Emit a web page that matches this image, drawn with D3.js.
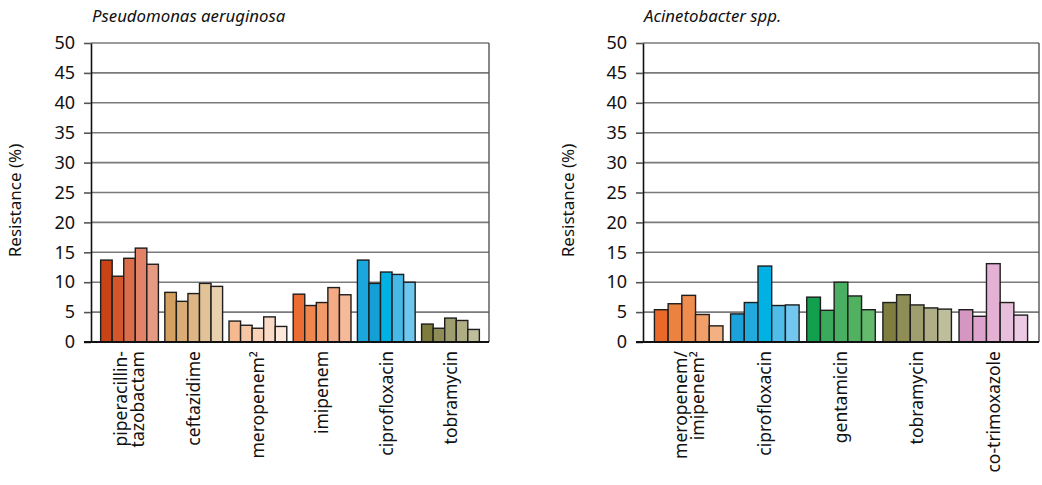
<!DOCTYPE html>
<html>
<head>
<meta charset="utf-8">
<script src="https://cdn.jsdelivr.net/npm/d3@7"></script>
<style>
  html, body { margin: 0; padding: 0; background: #fff; }
  svg { display: block; font-family: "Noto Sans", "Open Sans", sans-serif; }
</style>
</head>
<body>
<svg id="chart" width="1042" height="485"></svg>
<script>
// Resistance (%) per antibiotic, five consecutive years per antibiotic
const yTicks = [0, 5, 10, 15, 20, 25, 30, 35, 40, 45, 50];

const pseudoTitle = "Pseudomonas aeruginosa";
const pseudoDrugs = ["piperacillin-\ntazobactam", "ceftazidime", "meropenem²", "imipenem", "ciprofloxacin", "tobramycin"];
const pseudoValues = [
  [13.7, 11.0, 14.0, 15.7, 13.0],
  [8.3, 6.8, 8.1, 9.8, 9.3],
  [3.5, 2.8, 2.3, 4.2, 2.6],
  [8.0, 6.1, 6.6, 9.1, 7.9],
  [13.7, 9.8, 11.7, 11.3, 10.0],
  [3.0, 2.3, 4.0, 3.6, 2.1]
];
const pseudoColors = [
  ["#c84416", "#d4562b", "#dc6d4b", "#e28267", "#e69a82"],
  ["#d4a05f", "#d9ad75", "#ddb684", "#e2c398", "#e9d1ad"],
  ["#f5b98f", "#f7c6a4", "#f9d1b6", "#fadac6", "#fce7da"],
  ["#ec6d31", "#f0874f", "#f29a69", "#f4aa84", "#f6b999"],
  ["#1aa7dd", "#159fd7", "#00b2e3", "#46b9e8", "#6ec7ee"],
  ["#7d7c3c", "#8f8d57", "#9e9d6d", "#aead84", "#bebd9c"]
];

const acinetoTitle = "Acinetobacter spp.";
const acinetoDrugs = ["meropenem/\nimipenem²", "ciprofloxacin", "gentamicin", "tobramycin", "co-trimoxazole"];
const acinetoValues = [
  [5.4, 6.4, 7.8, 4.6, 2.7],
  [4.7, 6.6, 12.7, 6.1, 6.2],
  [7.5, 5.3, 10.0, 7.7, 5.4],
  [6.6, 7.9, 6.2, 5.7, 5.5],
  [5.4, 4.3, 13.1, 6.6, 4.5]
];
const acinetoColors = [
  ["#e8692a", "#ec8240", "#ee8d4d", "#f09f69", "#f3b081"],
  ["#1ba2da", "#22a9de", "#00b2e3", "#50bce9", "#73c7ee"],
  ["#13a04e", "#3aaa5b", "#49b063", "#50b261", "#63ba6c"],
  ["#7f7e40", "#8f8d56", "#9f9e6f", "#afae87", "#bebd9c"],
  ["#d596c1", "#dea3cc", "#e4b1d5", "#e7bfdc", "#edcae3"]
];

const svg = d3.select("#chart");

function drawPanel(opts) {
  const { title, drugs, values, colors, x0, x1, y0, y1, yTitleX } = opts;
  const g = svg.append("g");

  const x = d3.scaleBand().domain(drugs).range([x0, x1]).paddingInner(0.1).paddingOuter(0.15);
  const y = d3.scaleLinear().domain([0, 50]).range([y0, y1]);

  // horizontal grid lines
  g.append("g").selectAll("line")
    .data(yTicks.filter(t => t > 0))
    .join("line")
    .attr("x1", x0).attr("x2", x1)
    .attr("y1", d => y(d)).attr("y2", d => y(d))
    .attr("stroke", "#7a7a7a").attr("stroke-width", 1.6);

  // right frame edge
  g.append("line")
    .attr("x1", x1).attr("x2", x1).attr("y1", y(50)).attr("y2", y(0))
    .attr("stroke", "#555").attr("stroke-width", 1.4);

  // bars
  drugs.forEach((drug, i) => {
    const inner = d3.scaleBand().domain(d3.range(values[i].length)).range([x(drug), x(drug) + x.bandwidth()]);
    g.append("g").selectAll("rect")
      .data(values[i])
      .join("rect")
      .attr("x", (d, j) => inner(j))
      .attr("width", inner.bandwidth())
      .attr("y", d => y(d))
      .attr("height", d => y(0) - y(d))
      .attr("fill", (d, j) => colors[i][j])
      .attr("stroke", "#1e1e1e")
      .attr("stroke-width", 1.4);
  });

  // y axis
  const yAxis = d3.axisLeft(y).tickValues(yTicks).tickSize(7).tickPadding(9).tickSizeOuter(0);
  const ya = g.append("g").attr("transform", `translate(${x0},0)`).call(yAxis);
  ya.select(".domain").attr("stroke", "#111").attr("stroke-width", 1.6);
  ya.selectAll(".tick line").attr("stroke", "#555").attr("stroke-width", 1.6);
  ya.selectAll(".tick text").attr("font-size", 18).attr("fill", "#111")
    .attr("font-family", "\"Noto Sans\", sans-serif");

  // baseline
  g.append("line")
    .attr("x1", x0 - 7).attr("x2", x1).attr("y1", y(0)).attr("y2", y(0))
    .attr("stroke", "#111").attr("stroke-width", 2.2);

  // category labels, rotated
  drugs.forEach(drug => {
    const lines = drug.split("\n");
    const cx = x(drug) + x.bandwidth() / 2;
    const t = g.append("text")
      .attr("transform", `translate(${cx},${y0 + 9}) rotate(-90)`)
      .attr("text-anchor", "end")
      .attr("font-size", 17.5)
      .attr("fill", "#111");
    lines.forEach((ln, k) => {
      t.append("tspan")
        .attr("x", 0)
        .attr("y", (k - (lines.length - 1) / 2) * 17)
        .attr("dy", "0.36em")
        .text(ln);
    });
  });

  // y axis title
  g.append("text")
    .attr("transform", `translate(${yTitleX},${(y0 + y1) / 2 + 8}) rotate(-90)`)
    .attr("text-anchor", "middle")
    .attr("font-size", 17)
    .attr("fill", "#111")
    .text("Resistance (%)");

  // panel title
  g.append("text")
    .attr("x", x0 + 1).attr("y", 22)
    .attr("font-size", 16.8)
    .attr("font-style", "italic")
    .attr("fill", "#111")
    .text(title);
}

drawPanel({ title: pseudoTitle, drugs: pseudoDrugs, values: pseudoValues, colors: pseudoColors,
  x0: 91, x1: 489, y0: 342, y1: 43, yTitleX: 21 });
drawPanel({ title: acinetoTitle, drugs: acinetoDrugs, values: acinetoValues, colors: acinetoColors,
  x0: 643, x1: 1039, y0: 342, y1: 43, yTitleX: 574 });
</script>
</body>
</html>
